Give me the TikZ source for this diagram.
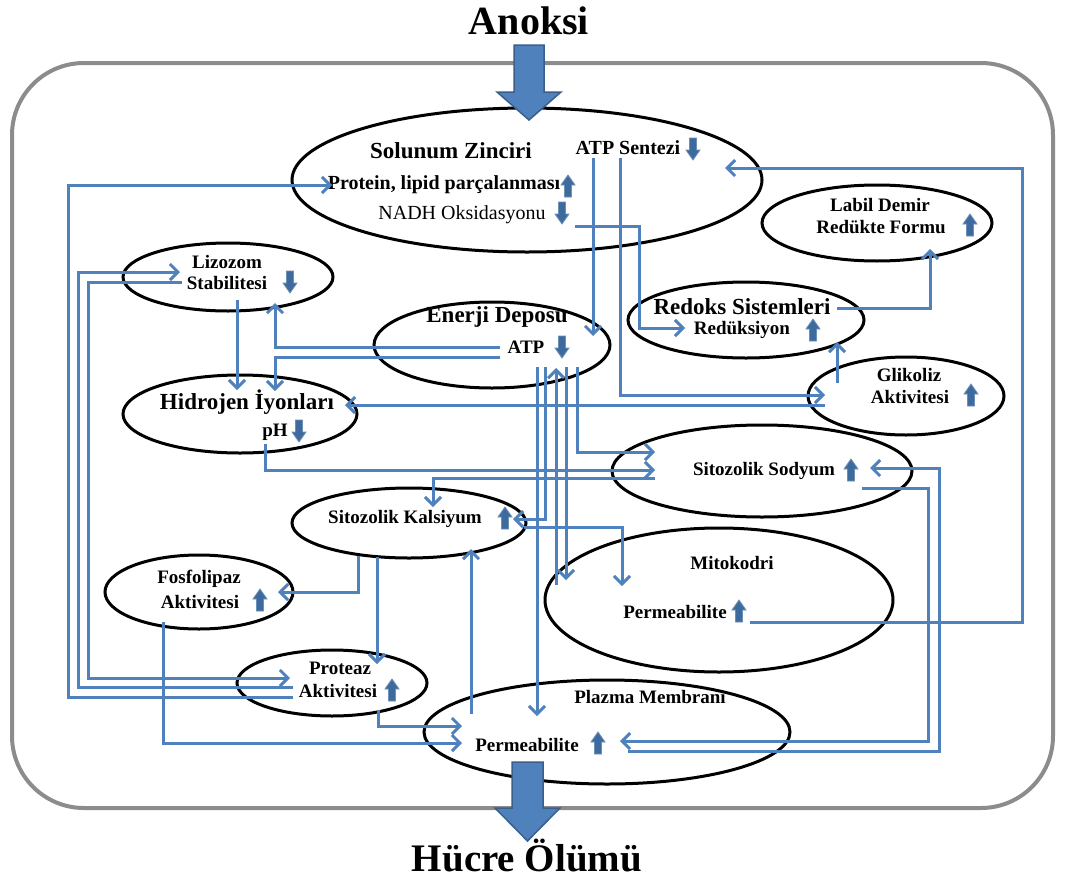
\documentclass[tikz,border=0pt]{standalone}
\usepackage{fontspec}
\setmainfont{Liberation Serif}
\usetikzlibrary{shapes.geometric,arrows.meta}
\definecolor{conn}{HTML}{4F81BD}
\definecolor{sarr}{HTML}{3D6B9E}
\definecolor{bigarr}{HTML}{4F81BD}
\definecolor{bigedge}{HTML}{3A5F8B}
\definecolor{framegray}{HTML}{8C8C8C}
\begin{document}
\begin{tikzpicture}[x=1pt,y=-1pt,
  ell/.style={draw=black, line width=3pt, ellipse, inner sep=0pt},
  con/.style={draw=conn, line width=3pt, -{Straight Barb[length=8pt,width=16pt]}},
  txt/.style={font=\fontsize{19}{21}\selectfont\bfseries, inner sep=0pt},
  txtr/.style={font=\fontsize{20}{22}\selectfont, inner sep=0pt},
  bigtxt/.style={font=\fontsize{23}{25}\selectfont\bfseries, inner sep=0pt},
  titletxt/.style={font=\fontsize{40}{44}\selectfont\bfseries, inner sep=0pt},
  bigarrow/.style={fill=bigarr, draw=bigedge, line width=1.5pt},
  upa/.pic={\filldraw[fill=sarr, draw=sarr!75!white, line width=0.8pt]
     (-3.5,11) -- (3.5,11) -- (3.5,-1) -- (7,-1) -- (0,-11) -- (-7,-1) -- (-3.5,-1) -- cycle;},
  dna/.pic={\filldraw[fill=sarr, draw=sarr!75!white, line width=0.8pt]
     (-3.5,-11) -- (3.5,-11) -- (3.5,1) -- (7,1) -- (0,11) -- (-7,1) -- (-3.5,1) -- cycle;}
]
\useasboundingbox (0,0) rectangle (1066,881);
\fill[white] (0,0) rectangle (1066,881);

% outer frame
\draw[framegray, line width=4pt, rounded corners=72pt] (12,63) rectangle (1053,808);

% ellipses
\node[ell, minimum width=470pt, minimum height=144pt] (solunum) at (527,180) {};
\node[ell, minimum width=230pt, minimum height=76pt] (labil) at (877,223) {};
\node[ell, minimum width=210pt, minimum height=68pt] (lizozom) at (228,277) {};
\node[ell, minimum width=236pt, minimum height=86pt] (enerji) at (492,345) {};
\node[ell, minimum width=236pt, minimum height=76pt] (redoks) at (746,320) {};
\node[ell, minimum width=196pt, minimum height=78pt] (glikoliz) at (906,396) {};
\node[ell, minimum width=234pt, minimum height=78pt] (hidrojen) at (240,414) {};
\node[ell, minimum width=300pt, minimum height=92pt] (sodyum) at (762,471) {};
\node[ell, minimum width=234pt, minimum height=70pt] (kalsiyum) at (409,523) {};
\node[ell, minimum width=348pt, minimum height=144pt] (mito) at (719,600) {};
\node[ell, minimum width=188pt, minimum height=74pt] (fosfo) at (199,592) {};
\node[ell, minimum width=190pt, minimum height=66pt] (proteaz) at (332,683) {};
\node[ell, minimum width=366pt, minimum height=104pt] (plazma) at (607,732) {};

% texts
\node[titletxt] (anoksi) at (529,21) {Anoksi};
\node[titletxt, font=\fontsize{39}{43}\selectfont\bfseries] (hucre) at (527,856) {Hücre Ölümü};

\node[bigtxt] (t-sol) at (451,151) {Solunum Zinciri};
\node[txt, font=\fontsize{20}{22}\selectfont\bfseries] (t-atps) at (628,148) {ATP Sentezi};
\node[txt, font=\fontsize{20}{22}\selectfont\bfseries] (t-prot) at (444,185) {Protein, lipid parçalanması};
\node[txtr] (t-nadh) at (462,215) {NADH Oksidasyonu};
\node[txt] (t-lab1) at (880,205) {Labil Demir};
\node[txt] (t-lab2) at (881,227) {Redükte Formu};
\node[txt] (t-liz1) at (227,262) {Lizozom};
\node[txt] (t-liz2) at (227,283) {Stabilitesi};
\node[bigtxt] (t-ene) at (497,317) {Enerji Deposu};
\node[txt] (t-atp) at (526,347) {ATP};
\node[bigtxt] (t-red1) at (742,307) {Redoks Sistemleri};
\node[txt] (t-red2) at (742,330) {Redüksiyon};
\node[bigtxt] (t-hid) at (247,402) {Hidrojen İyonları};
\node[txt] (t-ph) at (275,432) {pH};
\node[txt] (t-gli1) at (909,375) {Glikoliz};
\node[txt] (t-gli2) at (910,397) {Aktivitesi};
\node[txt] (t-sod) at (764,471) {Sitozolik Sodyum};
\node[txt] (t-kal) at (405,519) {Sitozolik Kalsiyum};
\node[txt] (t-mit1) at (732,563) {Mitokodri};
\node[txt] (t-mit2) at (675,612) {Permeabilite};
\node[txt] (t-fos1) at (199,579) {Fosfolipaz};
\node[txt] (t-fos2) at (200,602) {Aktivitesi};
\node[txt] (t-pro1) at (340,668) {Proteaz};
\node[txt] (t-pro2) at (338,691) {Aktivitesi};
\node[txt] (t-pla1) at (650,697) {Plazma Membranı};
\node[txt] (t-pla2) at (527,745) {Permeabilite};

% small arrows
\pic at (693,149) {dna};
\pic at (568,186) {upa};
\pic at (562,213) {dna};
\pic at (970,225) {upa};
\pic at (290,282) {dna};
\pic at (562,347) {dna};
\pic at (813,330) {upa};
\pic at (299,431) {dna};
\pic at (971,395) {upa};
\pic at (851,470) {upa};
\pic at (505,518) {upa};
\pic at (739,611) {upa};
\pic at (260,600) {upa};
\pic at (392,690) {upa};
\pic at (598,743) {upa};

% big arrows
\draw[bigarrow] (514,45) -- (544,45) -- (544,92) -- (561,92) -- (529,120) -- (497,92) -- (514,92) -- cycle;
\draw[bigarrow] (512,762) -- (543,762) -- (543,808) -- (560,808) -- (527.5,841) -- (495,808) -- (512,808) -- cycle;

% connectors
\draw[con] ([shift={(31,22)}]mito.center) -- (1022,622) -- (1022,168) -- ([shift={(198,-12)}]solunum.center);
\draw[con] ([shift={(-39,14)}]proteaz.center) -- (68,697) -- (68,185) -- ([shift={(-195,5)}]solunum.center);
\draw[con] ([shift={(-39,4)}]proteaz.center) -- (78,687) -- (78,272) -- ([shift={(-48,-5)}]lizozom.center);
\draw[con] ([shift={(-46,5)}]lizozom.center) -- (88,282) -- (88,678) -- ([shift={(-42,-5)}]proteaz.center);
\draw[con] ([shift={(9,23)}]lizozom.center) -- ([shift={(-3,-24)}]hidrojen.center);
\draw[con] ([shift={(8,2)}]enerji.center) -- (275,347) -- ([shift={(47,26)}]lizozom.center);
\draw[con] ([shift={(8,12)}]enerji.center) -- (275,357) -- ([shift={(35,-23)}]hidrojen.center);
\draw[con] ([shift={(-81,9)}]glikoliz.center) -- ([shift={(105,-9)}]hidrojen.center);
\draw[con] ([shift={(66,-22)}]solunum.center) -- ([shift={(101,-9)}]enerji.center);
\draw[con] ([shift={(93,-22)}]solunum.center) -- (620,395) -- ([shift={(-81,-1)}]glikoliz.center);
\draw[con] ([shift={(48,46)}]solunum.center) -- (639,226) -- (639,328) -- ([shift={(-61,8)}]redoks.center);
\draw[con] ([shift={(91,-12)}]redoks.center) -- (930,308) -- ([shift={(53,26)}]labil.center);
\draw[con] ([shift={(-69,-13)}]glikoliz.center) -- ([shift={(91,22)}]redoks.center);
\draw[con] ([shift={(25,30)}]hidrojen.center) -- (265,470) -- ([shift={(-107,-1)}]sodyum.center);
\draw[con] ([shift={(85,22)}]enerji.center) -- (577,452) -- ([shift={(-107,-19)}]sodyum.center);
\draw[con] ([shift={(-107,7)}]sodyum.center) -- (433,478) -- ([shift={(24,-16)}]kalsiyum.center);
\draw[con] ([shift={(45,22)}]enerji.center) -- ([shift={(-70,-16)}]plazma.center);
\draw[con] ([shift={(53,22)}]enerji.center) -- (545,519) -- ([shift={(104,-4)}]kalsiyum.center);
\draw[con] ([shift={(-163,-15)}]mito.center) -- ([shift={(64,23)}]enerji.center);
\draw[con] ([shift={(74,22)}]enerji.center) -- ([shift={(-153,-20)}]mito.center);
\draw[con] ([shift={(115,4)}]kalsiyum.center) -- (622,527) -- ([shift={(-97,-14)}]mito.center);
\draw[con] ([shift={(-51,33)}]kalsiyum.center) -- (358,592) -- ([shift={(79,0)}]fosfo.center);
\draw[con] ([shift={(-32,34)}]kalsiyum.center) -- ([shift={(45,-19)}]proteaz.center);
\draw[con] ([shift={(-136,-18)}]plazma.center) -- ([shift={(62,26)}]kalsiyum.center);
\draw[con] ([shift={(-36,30)}]fosfo.center) -- (163,743) -- ([shift={(-145,11)}]plazma.center);
\draw[con] ([shift={(46,27)}]proteaz.center) -- (378,726) -- ([shift={(-145,-6)}]plazma.center);
\draw[con] ([shift={(100,17)}]sodyum.center) -- (928,488) -- (928,741) -- ([shift={(13,9)}]plazma.center);
\draw[con] ([shift={(21,19)}]plazma.center) -- (939,751) -- (939,468) -- ([shift={(108,-3)}]sodyum.center);
\end{tikzpicture}
\end{document}
